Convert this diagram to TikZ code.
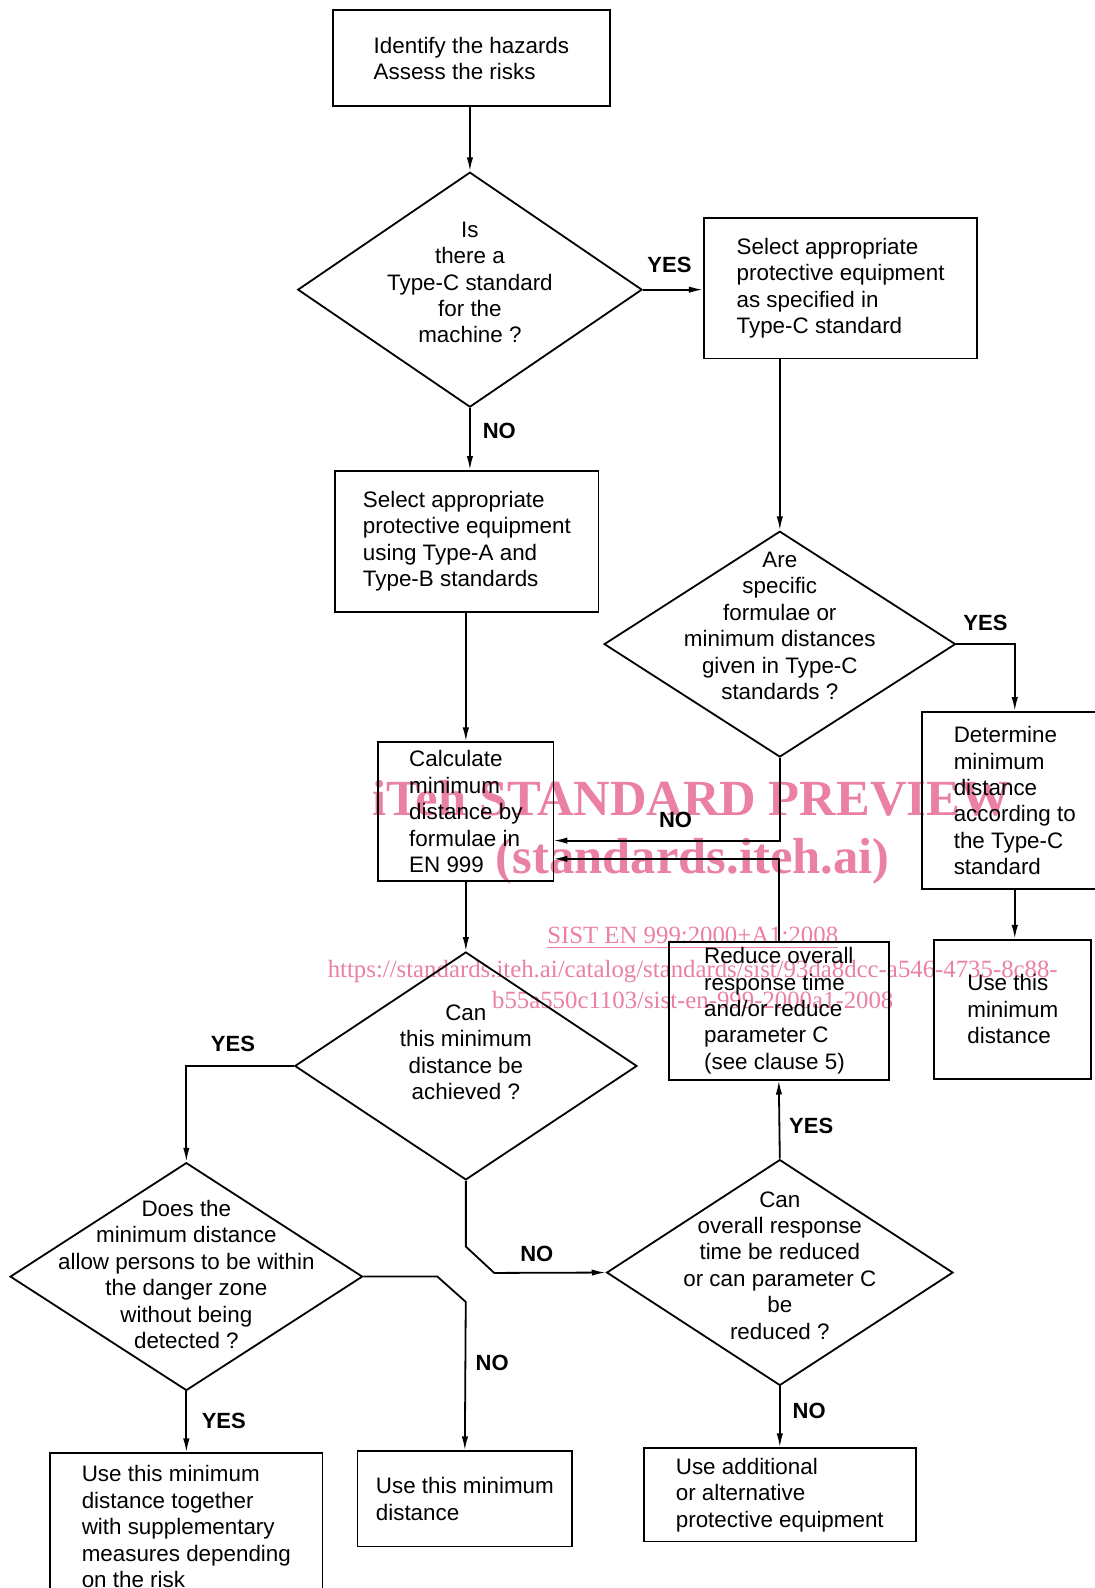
\documentclass[tikz,border=0pt]{standalone}
\usepackage{fontspec}
\setmainfont{Liberation Sans}
\newfontfamily\wmfont{Liberation Serif}
\usetikzlibrary{shapes.geometric,arrows.meta}
\definecolor{wmpink}{RGB}{234,128,162}
\tikzset{
  actbox/.style={draw, line width=0.9pt, align=left, inner sep=0pt, font=\fontsize{11.2}{13.2}\selectfont},
  quest/.style={draw, diamond, line width=0.9pt, inner sep=0pt},
  qtext/.style={align=center, inner sep=0pt, font=\fontsize{11.2}{13.2}\selectfont},
  yn/.style={inner sep=0pt, font=\bfseries\fontsize{11}{13}\selectfont},
  flow/.style={line width=0.9pt, -{Latex[length=7pt,width=3.2pt]}},
  wm/.style={text=wmpink, inner sep=0pt, anchor=base}
}
\begin{document}
\begin{tikzpicture}[x=0.5065pt, y=-0.5065pt]
\def\pxu{0.5065pt}
\def\xmid{464}
\def\xcalc{460}
\def\xright{770}
\def\xleft{184}

\useasboundingbox (0,0) rectangle (1081,1568);

\node[wm, font=\wmfont\bfseries\fontsize{25.3}{28}\selectfont] (wmtitle) at (683,805) {iTeh STANDARD PREVIEW};
\node[wm, font=\wmfont\bfseries\fontsize{25.3}{28}\selectfont] (wmsite) at (684,862) {(standards.iteh.ai)};
\node[wm, font=\wmfont\fontsize{12.4}{14}\selectfont] (wmcode) at (684,932) {\underline{SIST EN 999:2000+A1:2008}};
\node[wm, font=\wmfont\fontsize{12.4}{14}\selectfont] (wmurl) at (684,965) {https://standards.iteh.ai/catalog/standards/sist/93da8dcc-a546-4735-8c88-};
\node[wm, font=\wmfont\fontsize{12.4}{14}\selectfont] (wmurlb) at (684,996) {b55a550c1103/sist-en-999-2000a1-2008};

\node[actbox, minimum width=273*\pxu, minimum height=95*\pxu] (hazard) at (465.5,57.5) {Identify the hazards\\Assess the risks};
\node[quest, minimum width=340*\pxu, minimum height=232*\pxu] (q1) at (\xmid,286) {};
\node[qtext] (q1t) at (\xmid,279) {Is\\there a\\Type-C standard\\for the\\machine ?};
\node[actbox, minimum width=270*\pxu, minimum height=139*\pxu] (typec) at (830,284.5) {Select appropriate\\protective equipment\\as specified in\\Type-C standard};
\node[actbox, minimum width=260*\pxu, minimum height=139*\pxu] (abstd) at (461,534.5) {Select appropriate\\protective equipment\\using Type-A and\\Type-B standards};
\node[actbox, minimum width=173*\pxu, minimum height=137*\pxu] (calc) at (\xcalc,801.5) {Calculate\\minimum\\distance by\\formulae in\\EN 999};

\node[quest, minimum width=347*\pxu, minimum height=223*\pxu] (q2) at (\xright,636) {};
\node[qtext] (q2t) at (\xright,618) {Are\\specific\\formulae or\\minimum distances\\given in Type-C\\standards ?};
\node[actbox, minimum width=184*\pxu, minimum height=175*\pxu] (typecdist) at (1002,790.5) {Determine\\minimum\\distance\\according to\\the Type-C\\standard};
\node[actbox, minimum width=155*\pxu, minimum height=137*\pxu] (usec) at (1000,996.5) {Use this\\minimum\\distance};
\node[actbox, minimum width=217*\pxu, minimum height=136*\pxu] (reduce) at (769,998) {Reduce overall\\response time\\and/or reduce\\parameter C\\(see clause 5)};

\node[quest, minimum width=338*\pxu, minimum height=225*\pxu] (q3) at (\xcalc,1052.5) {};
\node[qtext] (q3t) at (\xcalc,1039) {Can\\this minimum\\distance be\\achieved ?};
\node[quest, minimum width=342*\pxu, minimum height=223*\pxu] (q4) at (\xright,1256.5) {};
\node[qtext] (q4t) at (\xright,1249.5) {Can\\overall response\\time be reduced\\or can parameter C\\be\\reduced ?};
\node[quest, minimum width=348*\pxu, minimum height=225*\pxu] (q5) at (\xleft,1260.5) {};
\node[qtext] (q5t) at (\xleft,1258.5) {Does the\\minimum distance\\allow persons to be within\\the danger zone\\without being\\detected ?};

\node[actbox, minimum width=269*\pxu, minimum height=92*\pxu] (addeq) at (\xright,1476) {Use additional\\or alternative\\protective equipment};
\node[actbox, minimum width=269*\pxu, minimum height=145*\pxu] (supp) at (\xleft,1507.5) {Use this minimum\\distance together\\with supplementary\\measures depending\\on the risk};
\node[actbox, minimum width=212*\pxu, minimum height=94*\pxu] (usemin) at (459,1480) {Use this minimum\\distance};

\node[yn] (yes1) at (661,262) {YES};
\node[yn] (no1) at (493,425) {NO};
\node[yn] (yes2) at (973,615) {YES};
\node[yn] (no2) at (667,810) {NO};
\node[yn] (yes3) at (230,1031) {YES};
\node[yn] (no3) at (530,1238) {NO};
\node[yn] (yes4) at (801,1112) {YES};
\node[yn] (no4) at (799,1393) {NO};
\node[yn] (yes5) at (221,1403) {YES};
\node[yn] (no5) at (486,1346) {NO};

\coordinate (noin) at (546.5,830);
\coordinate (redin) at (546.5,848);

\draw[flow] (hazard.south -| q1.north) -- (q1.north);
\draw[flow] (q1.east) -- (q1.east -| typec.west);
\draw[flow] (q1.south) -- (q1.south |- abstd.north);
\draw[flow] (q2.north |- typec.south) -- (q2.north);
\draw[flow] (calc.north |- abstd.south) -- (calc.north);
\draw[flow] (q2.east) -| (typecdist.north);
\draw[flow] (typecdist.south) -- (typecdist.south |- usec.north);
\draw[flow] (q2.south) |- (noin);
\draw[flow] (reduce.north) |- (redin);
\draw[flow] (calc.south) -- (q3.north);
\draw[flow] (q3.west) -| (q5.north);
\draw[flow] (q3.south) -- ++(0,65) -- ++(28,26) -- (q4.west);
\draw[flow] (q4.north) -- (reduce.south);
\draw[flow] (q4.south) -- (addeq.north);
\draw[flow] (q5.south) -- (supp.north);
\draw[flow] (q5.east) -- ++(73,0) -- ++(28,25) -- (usemin.north);

\end{tikzpicture}
\end{document}
